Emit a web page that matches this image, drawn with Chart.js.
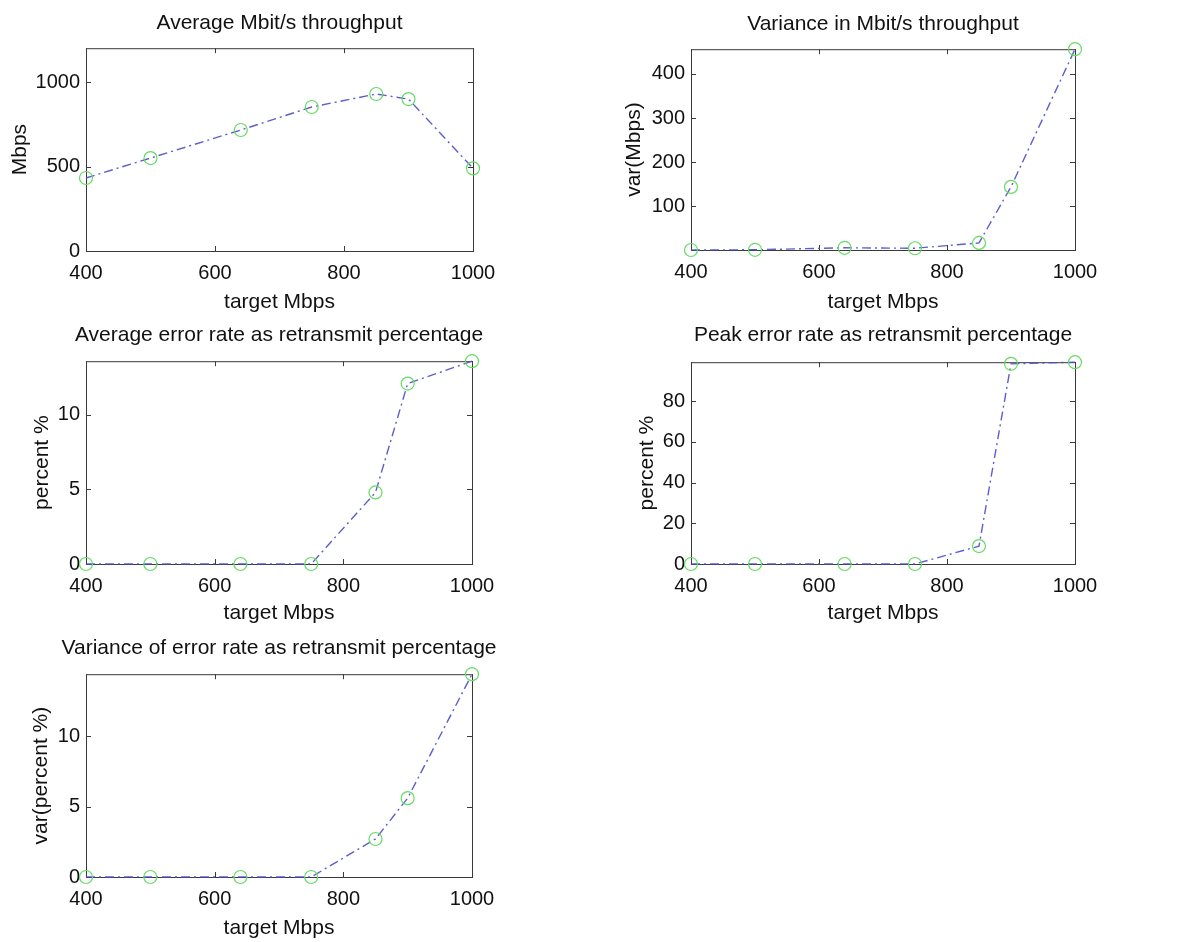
<!DOCTYPE html>
<html>
<head>
<meta charset="utf-8">
<title>Throughput and error rate vs target Mbps</title>
<script src="https://cdn.jsdelivr.net/npm/chart.js@4.4.1/dist/chart.umd.min.js"></script>
<style>
  html, body { margin: 0; padding: 0; background: #fff; }
  body { position: relative; width: 1193px; height: 942px; overflow: hidden; }
  canvas { position: absolute; }
</style>
</head>
<body>
<canvas id="avgThroughputChart"></canvas>
<canvas id="varThroughputChart"></canvas>
<canvas id="avgErrorChart"></canvas>
<canvas id="peakErrorChart"></canvas>
<canvas id="varErrorChart"></canvas>
<script>
// Data
const targetMbps = [400, 500, 640, 750, 850, 900, 1000];
const avgThroughput = [432, 550, 716, 852, 929, 899, 489];
const varThroughput = [1, 1.5, 6, 5, 17, 144, 456];
const avgErrorPct = [0, 0, 0, 0, 4.8, 12.1, 13.6];
const peakErrorPct = [0, 0, 0, 0, 8.8, 98.4, 99.2];
const varErrorPct = [0, 0, 0, 0, 2.7, 5.6, 14.4];

// Tick labels
const xTicks = [400, 600, 800, 1000];
const avgThroughputTicks = [0, 500, 1000];
const varThroughputTicks = [100, 200, 300, 400];
const avgErrorTicks = [0, 5, 10];
const peakErrorTicks = [0, 20, 40, 60, 80];
const varErrorTicks = [0, 5, 10];

const FONT = 'Liberation Sans, Arial, Helvetica, sans-serif';

// MATLAB style box with inward ticks on all four sides
const boxFrame = {
    id: 'boxFrame',
    beforeDatasetsDraw(chart) {
        const { ctx, chartArea: a, scales: { x, y } } = chart;
        ctx.save();
        ctx.strokeStyle = '#3a3a3a';
        ctx.lineWidth = 1;
        ctx.strokeRect(a.left + 0.5, a.top + 0.5, a.right - a.left, a.bottom - a.top);
        ctx.beginPath();
        x.ticks.forEach(t => {
            const px = Math.round(x.getPixelForValue(t.value)) + 0.5;
            ctx.moveTo(px, a.bottom); ctx.lineTo(px, a.bottom - 5);
            ctx.moveTo(px, a.top); ctx.lineTo(px, a.top + 5);
        });
        y.ticks.forEach(t => {
            const py = Math.round(y.getPixelForValue(t.value)) + 0.5;
            ctx.moveTo(a.left, py); ctx.lineTo(a.left + 5, py);
            ctx.moveTo(a.right, py); ctx.lineTo(a.right - 5, py);
        });
        ctx.stroke();
        ctx.restore();
    }
};

function makePanel(id, p) {
    const canvas = document.getElementById(id);
    canvas.width = p.box[2];
    canvas.height = p.box[3];
    canvas.style.left = p.box[0] + 'px';
    canvas.style.top = p.box[1] + 'px';

    return new Chart(canvas.getContext('2d'), {
        type: 'line',
        data: {
            datasets: [{
                data: targetMbps.map((x, i) => ({ x: x, y: p.values[i] })),
                borderColor: 'rgba(75, 75, 200, 0.9)',
                borderWidth: 1.4,
                borderDash: [9, 4, 2, 4],
                pointStyle: 'circle',
                pointRadius: 6.5,
                pointBorderColor: 'rgb(100, 220, 100)',
                pointBorderWidth: 1.2,
                pointBackgroundColor: 'rgba(0,0,0,0)',
                tension: 0,
                clip: false
            }]
        },
        options: {
            responsive: false,
            animation: false,
            layout: { padding: 0 },
            plugins: {
                legend: { display: false },
                tooltip: { enabled: false },
                title: {
                    display: true,
                    text: p.title,
                    color: '#111',
                    font: { family: FONT, size: 21, weight: 'normal' },
                    padding: p.titlePad
                }
            },
            scales: {
                x: {
                    type: 'linear',
                    min: 400,
                    max: 1000,
                    afterBuildTicks: s => { s.ticks = xTicks.map(v => ({ value: v })); },
                    afterFit: s => { s.height = p.xHeight; },
                    grid: { display: false, drawTicks: false },
                    border: { display: false },
                    ticks: {
                        color: '#111', padding: 10, maxRotation: 0,
                        font: { family: FONT, size: 20 },
                        callback: v => String(v)
                    },
                    title: {
                        display: true,
                        text: 'target Mbps',
                        color: '#111',
                        font: { family: FONT, size: 21 },
                        padding: { top: 0, bottom: p.xTitlePad }
                    }
                },
                y: {
                    type: 'linear',
                    min: p.yMin,
                    max: p.yMax,
                    afterBuildTicks: s => { s.ticks = p.yTicks.map(v => ({ value: v })); },
                    afterFit: s => { s.width = p.yWidth; },
                    grid: { display: false, drawTicks: false },
                    border: { display: false },
                    ticks: {
                        color: '#111', padding: 6,
                        font: { family: FONT, size: 20 },
                        callback: v => String(v)
                    },
                    title: {
                        display: true,
                        text: p.yLabel,
                        color: '#111',
                        font: { family: FONT, size: 21 },
                        padding: { top: p.yTitlePad, bottom: 0 }
                    }
                },
                // empty mirror axis so the title centres over the plot box
                y2: {
                    type: 'linear',
                    position: 'right',
                    afterFit: s => { s.width = p.yWidth; },
                    grid: { display: false, drawTicks: false },
                    border: { display: false },
                    ticks: { display: false },
                    title: { display: false }
                }
            }
        },
        plugins: [boxFrame]
    });
}

makePanel('avgThroughputChart', {
    box: [0, 0, 559, 320], yWidth: 86, xHeight: 69,
    titlePad: { top: 11, bottom: 12 }, xTitlePad: 5, yTitlePad: 8,
    title: 'Average Mbit/s throughput', yLabel: 'Mbps',
    values: avgThroughput, yMin: 0, yMax: 1200, yTicks: avgThroughputTicks
});

makePanel('varThroughputChart', {
    box: [590, 0, 586, 320], yWidth: 101, xHeight: 70,
    titlePad: { top: 12, bottom: 12 }, xTitlePad: 5, yTitlePad: 32,
    title: 'Variance in Mbit/s throughput', yLabel: 'var(Mbps)',
    values: varThroughput, yMin: 1, yMax: 456, yTicks: varThroughputTicks
});

makePanel('avgErrorChart', {
    box: [0, 320, 558, 310], yWidth: 86, xHeight: 66,
    titlePad: { top: 3, bottom: 13 }, xTitlePad: 4, yTitlePad: 30,
    title: 'Average error rate as retransmit percentage', yLabel: 'percent %',
    values: avgErrorPct, yMin: 0, yMax: 13.6, yTicks: avgErrorTicks
});

makePanel('peakErrorChart', {
    box: [590, 320, 586, 310], yWidth: 101, xHeight: 66,
    titlePad: { top: 3, bottom: 14 }, xTitlePad: 4, yTitlePad: 45,
    title: 'Peak error rate as retransmit percentage', yLabel: 'percent %',
    values: peakErrorPct, yMin: 0, yMax: 99.2, yTicks: peakErrorTicks
});

makePanel('varErrorChart', {
    box: [0, 630, 558, 312], yWidth: 86, xHeight: 65,
    titlePad: { top: 6, bottom: 13 }, xTitlePad: 1, yTitlePad: 29,
    title: 'Variance of error rate as retransmit percentage', yLabel: 'var(percent %)',
    values: varErrorPct, yMin: 0, yMax: 14.4, yTicks: varErrorTicks
});
</script>
</body>
</html>
